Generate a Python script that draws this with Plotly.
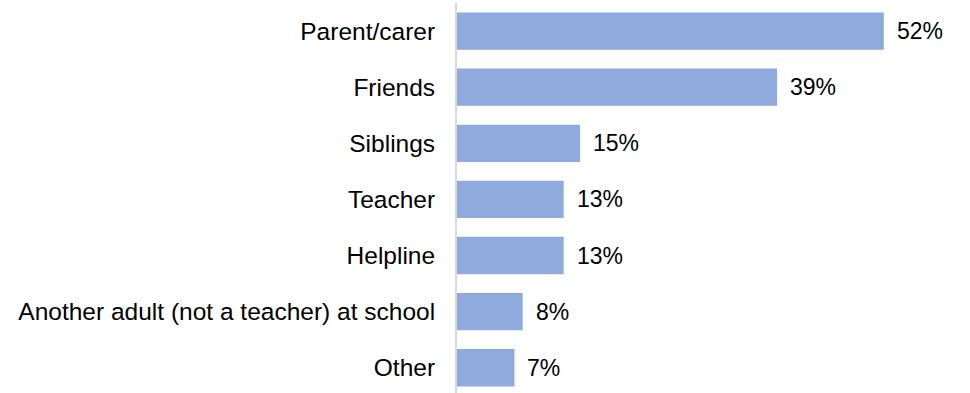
import plotly.graph_objects as go

categories = ["Parent/carer", "Friends", "Siblings", "Teacher", "Helpline",
              "Another adult (not a teacher) at school", "Other"]
values = [52, 39, 15, 13, 13, 8, 7]
value_labels = ["52%", "39%", "15%", "13%", "13%", "8%", "7%"]

FONT = "Liberation Sans, Arial"

fig = go.Figure(go.Bar(
    x=values, y=categories, orientation="h",
    marker=dict(color="#8FAADC", line=dict(width=0)),
    hoverinfo="skip",
))

for c, v, t in zip(categories, values, value_labels):
    fig.add_annotation(x=v, y=c, text=t, showarrow=False, xanchor="left",
                       xshift=11, font=dict(family=FONT, size=23, color="#000000"))

fig.update_layout(
    width=970, height=393,
    margin=dict(l=457, r=0, t=3, b=0),
    paper_bgcolor="white", plot_bgcolor="white",
    bargap=0.335,
    showlegend=False,
    font=dict(family=FONT, size=23, color="#000000"),
    xaxis=dict(range=[0, 62.5], showgrid=False, zeroline=False, showticklabels=False,
               showline=False, fixedrange=True),
    yaxis=dict(autorange=False, range=[6.45, -0.5], type="category", showgrid=False,
               showline=True, linecolor="#D9D9D9", linewidth=2, ticks="",
               ticklabelstandoff=15, tickfont=dict(family=FONT, size=24.5, color="#000000")),
)

fig.write_html("out.html", config={"displayModeBar": False},
               post_script="document.body.style.margin='0';document.body.style.overflow='hidden';")
